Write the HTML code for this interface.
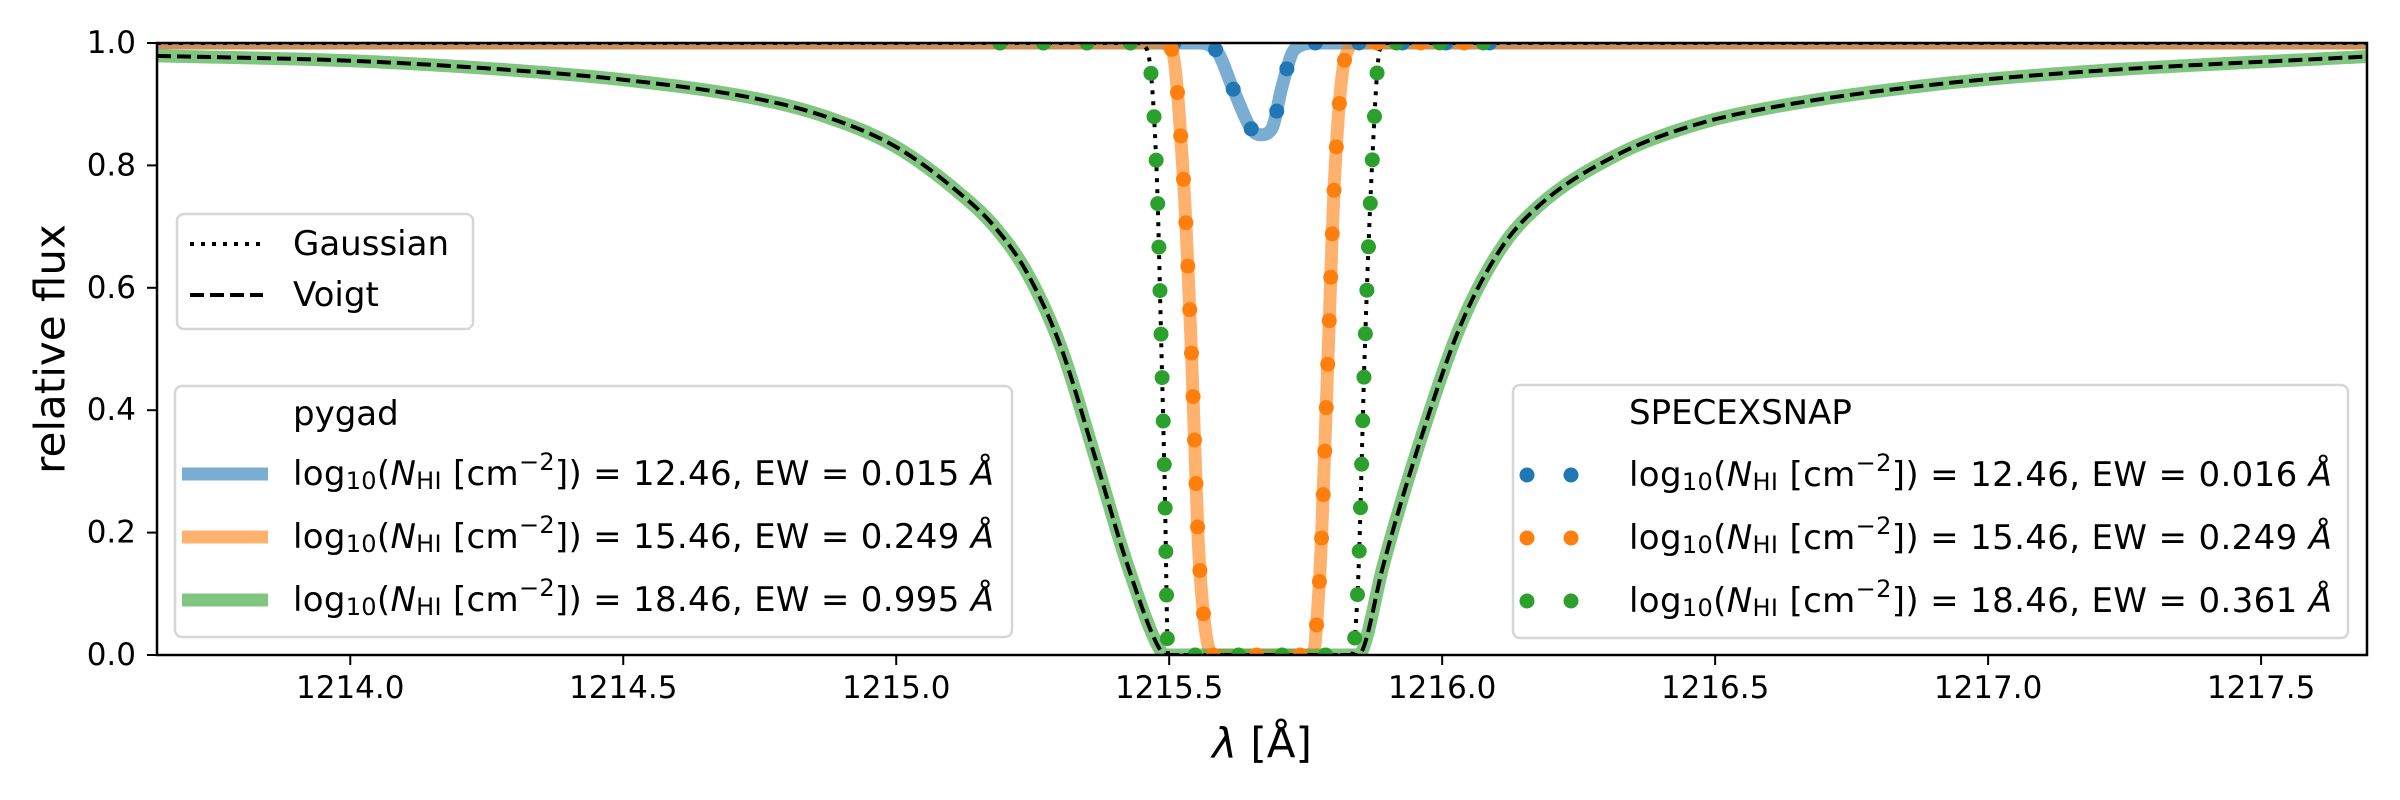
<!DOCTYPE html>
<html><head><meta charset="utf-8">
<style>
html,body{margin:0;padding:0;background:#fff;}
svg{display:block;font-family:"DejaVu Sans","Liberation Sans",sans-serif;}
</style></head>
<body>
<svg id="chart" width="2400" height="800" viewBox="0 0 2400 800" xmlns="http://www.w3.org/2000/svg">
  <defs><clipPath id="axclip"><rect x="157" y="43" width="2210" height="612"/></clipPath></defs>
  <rect x="0" y="0" width="2400" height="800" fill="#fff"/>
  <g id="plot" clip-path="url(#axclip)"></g>
  <g id="axes"></g>
  <text x="50" y="349" font-size="42" text-anchor="middle" dominant-baseline="central" transform="rotate(-90 50 349)">relative flux</text>
  <text x="1262" y="743" font-size="42" text-anchor="middle" dominant-baseline="central"><tspan font-style="italic">λ</tspan> [Å]</text>

  <g>
    <rect x="177" y="214" width="296" height="115" rx="7" fill="#fff" fill-opacity="0.8" stroke="#d6d6d6" stroke-width="2.5"/>
    <line x1="190" y1="244" x2="263" y2="244" stroke="#000" stroke-width="4" stroke-dasharray="4 7"/>
    <text x="293" y="244" font-size="34" dominant-baseline="central">Gaussian</text>
    <line x1="190" y1="295" x2="263" y2="295" stroke="#000" stroke-width="4" stroke-dasharray="14 6"/>
    <text x="293" y="295" font-size="34" dominant-baseline="central">Voigt</text>
  </g>
  <g id="leg2">
    <rect x="175" y="386" width="837" height="251" rx="7" fill="#fff" fill-opacity="0.8" stroke="#d6d6d6" stroke-width="2.5"/>
    <text x="293" y="414" font-size="34" dominant-baseline="central">pygad</text>
  </g>
  <g id="leg3">
    <rect x="1513" y="385" width="835" height="253" rx="7" fill="#fff" fill-opacity="0.8" stroke="#d6d6d6" stroke-width="2.5"/>
    <text x="1629" y="413" font-size="34" dominant-baseline="central">SPECEXSNAP</text>
  </g>
</svg>
<script>
// ---- data ----
const xTicks = [1214.0, 1214.5, 1215.0, 1215.5, 1216.0, 1216.5, 1217.0, 1217.5];
const yTicks = [0.0, 0.2, 0.4, 0.6, 0.8, 1.0];
const xDomain = [1213.646, 1217.694];
const yDomain = [0, 1];

const blueLam = [1213.646, 1215.55, 1215.587, 1215.617, 1215.65, 1215.667, 1215.688, 1215.707, 1215.73, 1215.77, 1217.694];
const blueFlux = [1, 1, 0.987, 0.925, 0.86, 0.85, 0.86, 0.93, 0.99, 1, 1];
const orangeLam = [1213.646, 1215.48, 1215.504, 1215.526, 1215.541, 1215.553, 1215.565, 1215.58, 1215.764, 1215.77, 1215.779, 1215.791, 1215.803, 1215.822, 1215.845, 1217.694];
const orangeFlux = [1, 1, 0.99, 0.78, 0.49, 0.19, 0.05, 0, 0, 0.05, 0.19, 0.49, 0.78, 0.975, 1, 1];
const greenLam = [1213.646, 1214.0, 1214.259, 1214.5, 1214.75, 1214.873, 1215.0, 1215.118, 1215.179, 1215.24, 1215.302, 1215.363, 1215.424, 1215.485, 1215.495, 1215.842, 1215.855, 1215.892, 1215.963, 1216.034, 1216.106, 1216.177, 1216.32, 1216.462, 1216.605, 1216.89, 1217.175, 1217.694];
const greenFlux = [0.979, 0.971, 0.958, 0.940, 0.908, 0.879, 0.830, 0.753, 0.701, 0.624, 0.502, 0.327, 0.146, 0.006, 0, 0, 0.01, 0.146, 0.359, 0.539, 0.662, 0.734, 0.817, 0.866, 0.895, 0.931, 0.953, 0.978];
const voigtLam = greenLam.slice();
const voigtFlux = greenFlux.slice();
const gaussLam = [1213.646, 1215.44, 1215.459, 1215.477, 1215.486, 1215.492, 1215.498, 1215.834, 1215.846, 1215.858, 1215.871, 1215.886, 1215.90, 1217.694];
const gaussFlux = [1, 1, 0.99, 0.79, 0.49, 0.27, 0, 0, 0.12, 0.49, 0.79, 0.99, 1, 1];

const specBlueLam = [1215.19, 1215.55, 1215.587, 1215.617, 1215.65, 1215.667, 1215.688, 1215.707, 1215.73, 1215.77, 1216.12];
const specBlueFlux = [1, 1, 0.987, 0.925, 0.86, 0.85, 0.86, 0.93, 0.99, 1, 1];
const specOrangeLam = [1215.19, 1215.48, 1215.504, 1215.526, 1215.541, 1215.553, 1215.565, 1215.58, 1215.764, 1215.77, 1215.779, 1215.791, 1215.803, 1215.822, 1215.845, 1216.12];
const specOrangeFlux = [1, 1, 0.99, 0.78, 0.49, 0.19, 0.05, 0, 0, 0.05, 0.19, 0.49, 0.78, 0.975, 1, 1];
const specGreenLam = [1215.19, 1215.44, 1215.459, 1215.477, 1215.486, 1215.492, 1215.498, 1215.834, 1215.846, 1215.858, 1215.871, 1215.886, 1215.90, 1216.12];
const specGreenFlux = [1, 1, 0.99, 0.79, 0.49, 0.27, 0, 0, 0.12, 0.49, 0.79, 0.99, 1, 1];

const pygadLabels = ["12.46", "15.46", "18.46"];
const pygadEW = ["0.015", "0.249", "0.995"];
const specLabels = ["12.46", "15.46", "18.46"];
const specEW = ["0.016", "0.249", "0.361"];

// ---- axes functions ----
const X0 = 157, X1 = 2367, Y0 = 655, Y1 = 43;
const sx = v => X0 + (v - xDomain[0]) / (xDomain[1] - xDomain[0]) * (X1 - X0);
const sy = v => Y0 - (v - yDomain[0]) / (yDomain[1] - yDomain[0]) * (Y0 - Y1);
const NS = "http://www.w3.org/2000/svg";
const mk = (tag, attrs, parent) => { const e = document.createElementNS(NS, tag); for (const k in attrs) e.setAttribute(k, attrs[k]); parent.appendChild(e); return e; };

// monotone cubic path in pixel space
function curvePath(lams, fl) {
  const xs = lams.map(sx), ys = fl.map(sy), n = xs.length;
  const d = [], m = new Array(n).fill(0);
  for (let i = 0; i < n - 1; i++) d.push((ys[i+1]-ys[i])/(xs[i+1]-xs[i]));
  m[0] = d[0]; m[n-1] = d[n-2];
  for (let i = 1; i < n - 1; i++) m[i] = (d[i-1]*d[i] <= 0) ? 0 : (d[i-1]+d[i])/2;
  for (let i = 0; i < n - 1; i++) {
    if (d[i] === 0) { m[i] = 0; m[i+1] = 0; continue; }
    const a = m[i]/d[i], b = m[i+1]/d[i], s = a*a + b*b;
    if (s > 9) { const t = 3/Math.sqrt(s); m[i] = t*a*d[i]; m[i+1] = t*b*d[i]; }
  }
  let p = `M${xs[0].toFixed(2)},${ys[0].toFixed(2)}`;
  for (let i = 0; i < n - 1; i++) {
    const h = (xs[i+1]-xs[i])/3;
    p += ` C${(xs[i]+h).toFixed(2)},${(ys[i]+m[i]*h).toFixed(2)} ${(xs[i+1]-h).toFixed(2)},${(ys[i+1]-m[i+1]*h).toFixed(2)} ${xs[i+1].toFixed(2)},${ys[i+1].toFixed(2)}`;
  }
  return p;
}

const plot = document.getElementById('plot');
function drawLine(lams, fl, attrs, name) {
  const p = mk('path', Object.assign({d: curvePath(lams, fl), fill: 'none', 'stroke-linejoin': 'round'}, attrs), plot);
  
  
  return p;
}
drawLine(blueLam, blueFlux, {stroke: '#1f77b4', 'stroke-opacity': 0.6, 'stroke-width': 13}, 'pygad-line-12-46');
drawLine(orangeLam, orangeFlux, {stroke: '#ff7f0e', 'stroke-opacity': 0.6, 'stroke-width': 13}, 'pygad-line-15-46');
drawLine(greenLam, greenFlux, {stroke: '#2ca02c', 'stroke-opacity': 0.6, 'stroke-width': 13}, 'pygad-line-18-46');
drawLine(voigtLam, voigtFlux, {stroke: '#000', 'stroke-width': 4, 'stroke-dasharray': '14 6'}, 'voigt-line');
drawLine(gaussLam, gaussFlux, {stroke: '#000', 'stroke-width': 4, 'stroke-dasharray': '4 7'}, 'gaussian-line');

function drawDots(lams, fl, color, name) {
  const g = mk('g', {fill: color}, plot);
  
  
  const tmp = mk('path', {d: curvePath(lams, fl), fill: 'none'}, plot);
  const L = tmp.getTotalLength();
  for (let s = 0; s <= L; s += 43.5) {
    const pt = tmp.getPointAtLength(s);
    const c = mk('circle', {cx: pt.x.toFixed(2), cy: pt.y.toFixed(2), r: 7.5}, g);
    
    
  }
  tmp.remove();
}
drawDots(specBlueLam, specBlueFlux, '#1f77b4', 'specexsnap-dots-12-46');
drawDots(specOrangeLam, specOrangeFlux, '#ff7f0e', 'specexsnap-dots-15-46');
drawDots(specGreenLam, specGreenFlux, '#2ca02c', 'specexsnap-dots-18-46');

// ---- axes ----
const axes = document.getElementById('axes');
const frame = mk('rect', {x: X0, y: Y1, width: X1 - X0, height: Y0 - Y1, fill: 'none', stroke: '#000', 'stroke-width': 2.5}, axes);


xTicks.forEach(v => {
  const t = mk('line', {x1: sx(v), x2: sx(v), y1: Y0, y2: Y0 + 10, stroke: '#000', 'stroke-width': 2}, axes);
  
  
  const l = mk('text', {x: sx(v), y: 688, 'font-size': 31, 'text-anchor': 'middle', 'dominant-baseline': 'central'}, axes);
  l.textContent = v.toFixed(1);
  
  
});
yTicks.forEach(v => {
  const t = mk('line', {x1: X0 - 10, x2: X0, y1: sy(v), y2: sy(v), stroke: '#000', 'stroke-width': 2}, axes);
  
  
  const l = mk('text', {x: 136, y: sy(v), 'font-size': 31, 'text-anchor': 'end', 'dominant-baseline': 'central'}, axes);
  l.textContent = v.toFixed(1);
  
  
});

// ---- legends ----
function mathLabel(parent, x, y, logN, ew, width) {
  const t = mk('text', {x: x, y: y, 'font-size': 34, 'dominant-baseline': 'central', textLength: width, lengthAdjust: 'spacing'}, parent);
  t.innerHTML = 'log<tspan font-size="24" dy="7">10</tspan><tspan dy="-7">(</tspan><tspan font-style="italic">N</tspan><tspan font-size="24" dy="7">HI</tspan><tspan dy="-7"> [cm</tspan><tspan font-size="24" dy="-12">−2</tspan><tspan dy="12">]) = ' + logN + ', EW = ' + ew + ' </tspan><tspan font-style="italic">Å</tspan>';
  return t;
}
const leg2 = document.getElementById('leg2');
const leg3 = document.getElementById('leg3');
const colors = ['#1f77b4', '#ff7f0e', '#2ca02c'];
const rowY = [474, 537, 600];
for (let i = 0; i < 3; i++) {
  const h = mk('line', {x1: 182, x2: 268, y1: rowY[i], y2: rowY[i], stroke: colors[i], 'stroke-opacity': 0.6, 'stroke-width': 13}, leg2);
  
  
  const t = mathLabel(leg2, 293, rowY[i], pygadLabels[i], pygadEW[i], 701);
  
  
  [1527, 1571].forEach(cx => {
    const c = mk('circle', {cx: cx, cy: rowY[i] + 1, r: 7.5, fill: colors[i]}, leg3);
    
    
  });
  const t2 = mathLabel(leg3, 1629, rowY[i] + 1, specLabels[i], specEW[i], 703);
  
  
}
</script>
</body></html>
